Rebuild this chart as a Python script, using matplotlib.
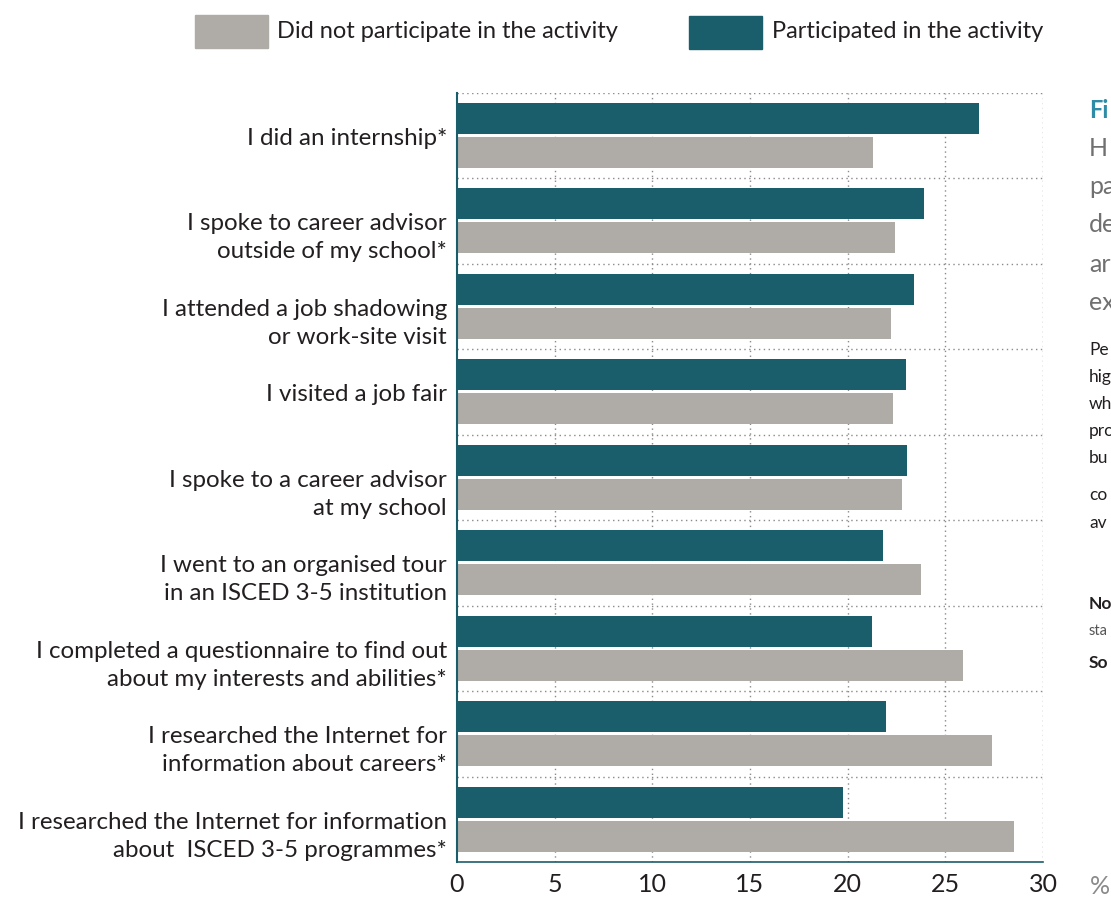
import matplotlib
matplotlib.use("Agg")
import matplotlib.pyplot as plt
import numpy as np
from matplotlib.patches import Rectangle
from matplotlib.transforms import ScaledTranslation, blended_transform_factory

plt.rcParams['font.family'] = ['Lato', 'DejaVu Sans']

categories = [
    "I did an internship*",
    "I spoke to career advisor\noutside of my school*",
    "I attended a job shadowing\nor work-site visit",
    "I visited a job fair",
    "I spoke to a career advisor\nat my school",
    "I went to an organised tour\nin an ISCED 3-5 institution",
    "I completed a questionnaire to find out\nabout my interests and abilities*",
    "I researched the Internet for\ninformation about careers*",
    "I researched the Internet for information\nabout  ISCED 3-5 programmes*",
]
participated = [26.7, 23.9, 23.4, 23.0, 23.05, 21.8, 21.25, 21.95, 19.75]
not_participated = [21.3, 22.4, 22.2, 22.3, 22.8, 23.75, 25.9, 27.4, 28.5]
xticks = [0, 5, 10, 15, 20, 25, 30]
legend_labels = ["Did not participate in the activity", "Participated in the activity"]

TEAL = "#1b5e6b"
GREY = "#afaca7"
TXT = "#231f20"

fig = plt.figure(figsize=(11.11, 8.97), dpi=100)
ax = fig.add_axes([0.4113, 0.039, 0.5275, 0.8577])

n = len(categories)
y = np.arange(n)
h = 0.362
off = 0.1985
ax.barh(y - off, participated, height=h, color=TEAL, zorder=2)
ax.barh(y + off, not_participated, height=h, color=GREY, zorder=2)

ax.set_ylim(n - 0.5, -0.5)
ax.set_xlim(0, 30)

for xv in xticks[1:]:
    ax.axvline(xv, color="#8a8a8a", lw=1.0, ls=(0, (1, 2.5)), zorder=1)
for yb in np.arange(-0.5, n - 0.5, 1.0):
    ax.axhline(yb, color="#8a8a8a", lw=1.0, ls=(0, (1, 2.5)), zorder=1)

for s in ["top", "right"]:
    ax.spines[s].set_visible(False)
ax.spines["left"].set_color(TEAL)
ax.spines["left"].set_linewidth(1.5)
ax.spines["bottom"].set_color(TEAL)
ax.spines["bottom"].set_linewidth(1.2)

# category labels: first line centred on the group, further lines below
ax.set_yticks(y)
ax.set_yticklabels([])
ax.tick_params(axis="y", length=0)
btrans = blended_transform_factory(ax.transAxes, ax.transData)
for i, lab in enumerate(categories):
    nl = lab.count("\n")
    tr = btrans + ScaledTranslation(0, -0.03 - 0.14 * nl, fig.dpi_scale_trans)
    ax.text(-0.017, i, lab, transform=tr, ha="right", va="center",
            fontsize=17.4, color=TXT, linespacing=1.4)

ax.set_xticks(xticks)
ax.set_xticklabels([str(v) for v in xticks], fontsize=18, color=TXT)
ax.tick_params(axis="x", length=0, pad=8)

fig.text(1100 / 1111, 1 - 886 / 897, "%", fontsize=18, color="#8a8a8a",
         ha="center", va="center")

# legend
fig.patches.append(Rectangle((195 / 1111, 1 - 48 / 897), 73 / 1111, 33 / 897,
                             transform=fig.transFigure, color=GREY))
fig.text(277 / 1111, 1 - 31 / 897, legend_labels[0], fontsize=17, color=TXT,
         va="center")
fig.patches.append(Rectangle((689 / 1111, 1 - 49 / 897), 73 / 1111, 33 / 897,
                             transform=fig.transFigure, color=TEAL))
fig.text(772 / 1111, 1 - 32 / 897, legend_labels[1], fontsize=17, color=TXT,
         va="center")

# side caption fragments (as visible in the reference)
fig.text(1089 / 1111, 1 - 110 / 897, "Fi", fontsize=17, color="#2f8ca6",
         fontweight="bold", va="center")
side_big = [("H", 148), ("pa", 186), ("de", 224), ("ar", 264), ("ex", 302)]
for t, yy in side_big:
    fig.text(1089 / 1111, 1 - yy / 897, t, fontsize=18, color="#707070",
             va="center")
side_small = [("Pe", 350), ("hig", 377), ("wh", 404), ("pro", 431),
              ("bu", 458), ("co", 495), ("av", 523)]
for t, yy in side_small:
    fig.text(1089 / 1111, 1 - yy / 897, t, fontsize=12.5, color=TXT, va="center")
fig.text(1089 / 1111, 1 - 604 / 897, "No", fontsize=12.5, color=TXT,
         fontweight="bold", va="center")
fig.text(1089 / 1111, 1 - 631 / 897, "sta", fontsize=10.5, color="#555555", va="center")
fig.text(1089 / 1111, 1 - 663 / 897, "So", fontsize=12.5, color=TXT,
         fontweight="bold", va="center")

fig.savefig("out.png", dpi=100)
